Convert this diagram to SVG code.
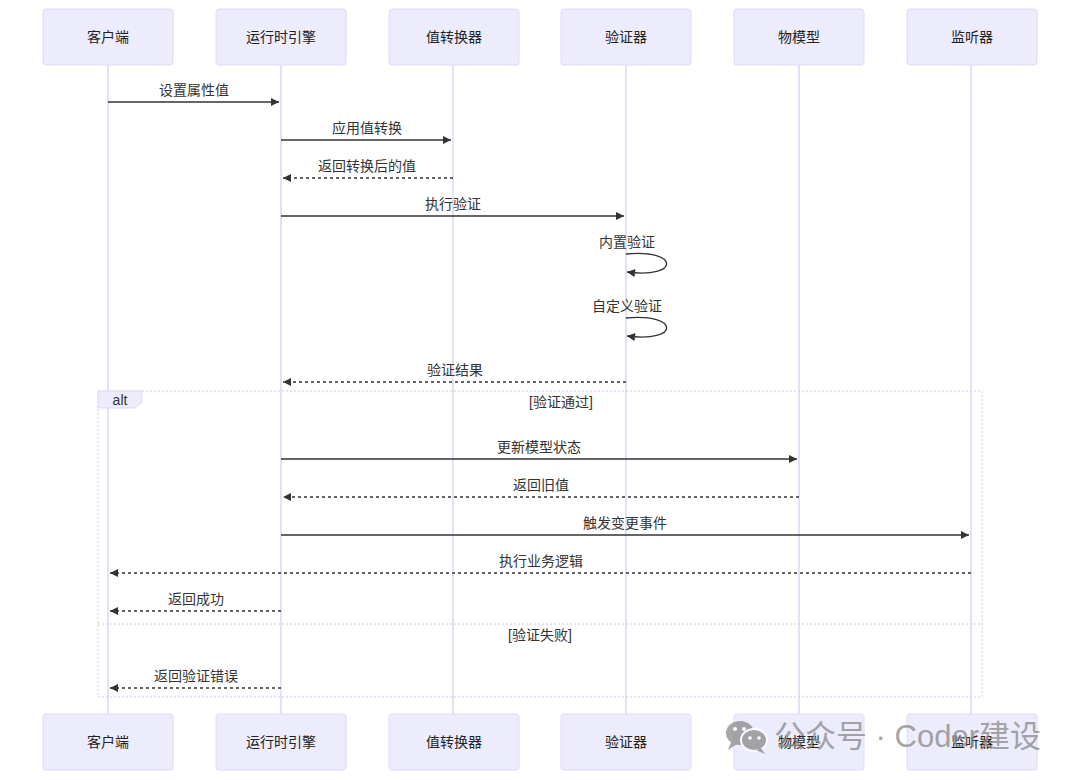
<svg xmlns="http://www.w3.org/2000/svg" width="1080" height="780" viewBox="0 0 1080 780">
<style>
text{font-family:"Liberation Sans","Noto Sans CJK SC",sans-serif;fill:#333;}
.actor rect{fill:#ececfd;stroke:#dedafa;stroke-width:1;}
.actor text{font-size:14px;text-anchor:middle;dominant-baseline:central;fill:#222;}
.life{stroke:#d4cff3;stroke-width:1.3;}
.msg{stroke:#333;stroke-width:1.4;fill:none;}
.dash{stroke-dasharray:3,3;}
.lbl{font-size:14px;text-anchor:middle;}
.loop{stroke:#cdc8ef;stroke-width:1;fill:none;stroke-dasharray:2,2;}
</style>
<defs>
<marker id="ah" viewBox="0 0 10 10" refX="10" refY="5" markerWidth="11" markerHeight="8" markerUnits="userSpaceOnUse" orient="auto">
<path d="M0,0 L10,5 L0,10 z" fill="#333"/>
</marker>
</defs>
<rect width="1080" height="780" fill="#fff"/>
<g id="lifelines">
<line class="life" x1="108" y1="65" x2="108" y2="714"/>
<line class="life" x1="281" y1="65" x2="281" y2="714"/>
<line class="life" x1="453" y1="65" x2="453" y2="714"/>
<line class="life" x1="626" y1="65" x2="626" y2="714"/>
<line class="life" x1="799" y1="65" x2="799" y2="714"/>
<line class="life" x1="971" y1="65" x2="971" y2="714"/>
</g>
<g id="alt">
<rect class="loop" x="98" y="391" width="884" height="306"/>
<line class="loop" x1="98" y1="624" x2="982" y2="624"/>
<path d="M98,391 L142,391 L142,402 L135,408 L98,408 z" fill="#ececfd" stroke="#dedafa" stroke-width="1"/>
<text x="120" y="405" font-size="14" text-anchor="middle">alt</text>
<text class="lbl" x="561" y="407">[验证通过]</text>
<text class="lbl" x="540" y="640">[验证失败]</text>
</g>
<g id="actor-client" class="actor"><rect x="43" y="9" width="130" height="56" rx="3"/><text x="108" y="37">客户端</text></g>
<g id="actor-engine" class="actor"><rect x="216" y="9" width="130" height="56" rx="3"/><text x="281" y="37">运行时引擎</text></g>
<g id="actor-converter" class="actor"><rect x="389" y="9" width="130" height="56" rx="3"/><text x="454" y="37">值转换器</text></g>
<g id="actor-validator" class="actor"><rect x="561" y="9" width="130" height="56" rx="3"/><text x="626" y="37">验证器</text></g>
<g id="actor-model" class="actor"><rect x="734" y="9" width="130" height="56" rx="3"/><text x="799" y="37">物模型</text></g>
<g id="actor-listener" class="actor"><rect x="907" y="9" width="130" height="56" rx="3"/><text x="972" y="37">监听器</text></g>
<g id="actor-client-b" class="actor"><rect x="43" y="714" width="130" height="56" rx="3"/><text x="108" y="742">客户端</text></g>
<g id="actor-engine-b" class="actor"><rect x="216" y="714" width="130" height="56" rx="3"/><text x="281" y="742">运行时引擎</text></g>
<g id="actor-converter-b" class="actor"><rect x="389" y="714" width="130" height="56" rx="3"/><text x="454" y="742">值转换器</text></g>
<g id="actor-validator-b" class="actor"><rect x="561" y="714" width="130" height="56" rx="3"/><text x="626" y="742">验证器</text></g>
<g id="actor-model-b" class="actor"><rect x="734" y="714" width="130" height="56" rx="3"/><text x="799" y="742">物模型</text></g>
<g id="actor-listener-b" class="actor"><rect x="907" y="714" width="130" height="56" rx="3"/><text x="972" y="742">监听器</text></g>
<g id="connectors">
<line class="msg" x1="108" y1="102" x2="279" y2="102" marker-end="url(#ah)"/>
<text class="lbl" x="194" y="95">设置属性值</text>
<line class="msg" x1="281" y1="140" x2="451" y2="140" marker-end="url(#ah)"/>
<text class="lbl" x="367" y="133">应用值转换</text>
<line class="msg dash" x1="453" y1="178" x2="283" y2="178" marker-end="url(#ah)"/>
<text class="lbl" x="367" y="171">返回转换后的值</text>
<line class="msg" x1="281" y1="216" x2="624" y2="216" marker-end="url(#ah)"/>
<text class="lbl" x="453" y="209">执行验证</text>
<path class="msg" d="M626,254 C680,249 680,279 627,272" marker-end="url(#ah)"/>
<text class="lbl" x="627" y="247">内置验证</text>
<path class="msg" d="M626,318 C680,313 680,343 627,336" marker-end="url(#ah)"/>
<text class="lbl" x="627" y="311">自定义验证</text>
<line class="msg dash" x1="626" y1="382" x2="283" y2="382" marker-end="url(#ah)"/>
<text class="lbl" x="455" y="375">验证结果</text>
<line class="msg" x1="281" y1="459" x2="797" y2="459" marker-end="url(#ah)"/>
<text class="lbl" x="539" y="452">更新模型状态</text>
<line class="msg dash" x1="799" y1="497" x2="283" y2="497" marker-end="url(#ah)"/>
<text class="lbl" x="541" y="490">返回旧值</text>
<line class="msg" x1="281" y1="535" x2="969" y2="535" marker-end="url(#ah)"/>
<text class="lbl" x="625" y="528">触发变更事件</text>
<line class="msg dash" x1="971" y1="573" x2="110" y2="573" marker-end="url(#ah)"/>
<text class="lbl" x="541" y="566">执行业务逻辑</text>
<line class="msg dash" x1="281" y1="611" x2="110" y2="611" marker-end="url(#ah)"/>
<text class="lbl" x="196" y="604">返回成功</text>
<line class="msg dash" x1="281" y1="688" x2="110" y2="688" marker-end="url(#ah)"/>
<text class="lbl" x="196" y="681">返回验证错误</text>
</g>
<g id="watermark" opacity="0.75">
<ellipse cx="740" cy="733" rx="14" ry="12" fill="#8a8a8a"/>
<path d="M731,742 L728,750 L737,744 z" fill="#8a8a8a"/>
<ellipse cx="754" cy="740" rx="13" ry="11" fill="#8a8a8a" stroke="#fff" stroke-width="2"/>
<path d="M761,748 L765,754 L756,750 z" fill="#8a8a8a"/>
<circle cx="735" cy="729" r="2" fill="#fff"/>
<circle cx="744" cy="729" r="2" fill="#fff"/>
<circle cx="750" cy="738" r="1.8" fill="#fff"/>
<circle cx="759" cy="738" r="1.8" fill="#fff"/>
<text x="774" y="747" font-size="31" style="fill:#888">公众号 · Coder建设</text>
</g>
</svg>
